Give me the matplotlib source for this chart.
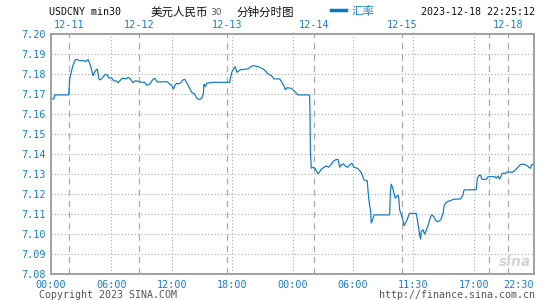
import numpy as np
import matplotlib
matplotlib.use("Agg")
import matplotlib.pyplot as plt

# 30-minute bars, x = bar number counted from the left edge of the chart
N_BARS = 265
bar_x = [0, 1.6, 2.0, 9.7, 10.3, 11.2, 11.9, 13.3, 14.1, 15.7, 18.1, 19.0, 20.3, 21.2, 22.1,
         23.0, 24.0, 25.4, 26.3, 27.1, 28.2, 29.8, 30.9, 31.6, 33.5, 34.4, 35.8, 36.8, 37.7,
         39.0, 41.3, 42.2, 43.7, 45.0, 46.3, 48.7, 49.6, 51.4, 52.3, 53.6, 54.7, 56.0, 56.9,
         58.3, 60.5, 62.0, 63.8, 65.1, 66.4, 67.1, 67.9, 68.8, 70.1, 71.2, 72.4, 73.4, 74.8,
         76.1, 77.4, 78.8, 79.7, 80.7, 81.6, 82.8, 83.6, 83.9, 84.7, 85.4, 86.5, 87.6, 88.9,
         98.0, 98.6, 99.3, 100.4, 101.1, 101.9, 103.0, 104.1, 106.3, 108.1, 109.6, 110.8,
         112.1, 113.6, 115.0, 116.3, 117.6, 119.1, 120.9, 122.4, 125.5, 126.4, 127.8, 128.6,
         129.6, 131.8, 133.3, 134.6, 135.5, 141.9, 142.1, 142.3, 142.8, 143.7, 144.7, 145.6,
         146.5, 147.4, 148.3, 149.8, 151.1, 152.4, 153.5, 154.7, 156.0, 157.5, 158.4, 159.3,
         160.4, 161.5, 162.6, 163.9, 165.1, 166.2, 168.1, 169.4, 170.6, 171.7, 173.5, 173.9,
         174.5, 175.4, 175.7, 176.7, 177.2, 185.8, 186.2, 186.7, 187.5, 188.2, 188.9, 189.7,
         190.4, 190.9, 191.3, 192.2, 193.0, 193.7, 194.6, 195.5, 196.3, 196.8, 199.2, 200.4,
         201.0, 201.7, 202.3, 202.8, 203.1, 204.1, 205.0, 205.9, 206.8, 207.8, 208.3, 209.0,
         210.1, 210.9, 212.0, 213.3, 214.2, 215.1, 215.6, 216.4, 217.8, 219.3, 220.6, 224.8,
         226.0, 226.6, 233.3, 233.9, 234.6, 235.5, 236.5, 238.8, 239.8, 243.5, 244.3, 245.3,
         246.2, 247.5, 249.3, 250.4, 253.0, 254.4, 256.2, 257.7, 259.9, 261.3, 263.0, 263.9,
         265.0]
rate = [7.1677, 7.1677, 7.1697, 7.1697, 7.1780, 7.1813, 7.1840, 7.1872, 7.1875, 7.1868,
        7.1868, 7.1863, 7.1875, 7.1855, 7.1830, 7.1793, 7.1813, 7.1827, 7.1777, 7.1772,
        7.1783, 7.1800, 7.1797, 7.1783, 7.1780, 7.1767, 7.1767, 7.1758, 7.1767, 7.1780,
        7.1777, 7.1785, 7.1775, 7.1758, 7.1768, 7.1763, 7.1760, 7.1760, 7.1747, 7.1747,
        7.1758, 7.1775, 7.1780, 7.1762, 7.1762, 7.1763, 7.1762, 7.1752, 7.1742, 7.1725,
        7.1742, 7.1755, 7.1752, 7.1758, 7.1772, 7.1775, 7.1752, 7.1730, 7.1708, 7.1702,
        7.1685, 7.1675, 7.1675, 7.1682, 7.1705, 7.1752, 7.1738, 7.1755, 7.1758, 7.1757,
        7.1760, 7.1760, 7.1788, 7.1813, 7.1830, 7.1838, 7.1810, 7.1817, 7.1823, 7.1825,
        7.1827, 7.1838, 7.1843, 7.1842, 7.1838, 7.1833, 7.1827, 7.1817, 7.1802, 7.1793,
        7.1777, 7.1777, 7.1763, 7.1743, 7.1722, 7.1733, 7.1730, 7.1718, 7.1705, 7.1697,
        7.1697, 7.1605, 7.1422, 7.1330, 7.1335, 7.1330, 7.1318, 7.1302, 7.1313, 7.1325,
        7.1335, 7.1342, 7.1335, 7.1347, 7.1363, 7.1372, 7.1375, 7.1335, 7.1347, 7.1352,
        7.1342, 7.1335, 7.1347, 7.1355, 7.1335, 7.1330, 7.1318, 7.1302, 7.1272, 7.1268,
        7.1222, 7.1163, 7.1113, 7.1055, 7.1080, 7.1097, 7.1097, 7.1213, 7.1252, 7.1230,
        7.1205, 7.1180, 7.1190, 7.1197, 7.1172, 7.1122, 7.1097, 7.1075, 7.1042, 7.1058,
        7.1075, 7.1097, 7.1105, 7.1105, 7.1105, 7.1072, 7.1030, 7.0997, 7.0975, 7.1013,
        7.1023, 7.1000, 7.1020, 7.1042, 7.1072, 7.1088, 7.1097, 7.1088, 7.1072, 7.1063,
        7.1068, 7.1080, 7.1105, 7.1138, 7.1155, 7.1165, 7.1168, 7.1175, 7.1177, 7.1197,
        7.1222, 7.1223, 7.1280, 7.1292, 7.1298, 7.1275, 7.1275, 7.1288, 7.1288, 7.1280,
        7.1292, 7.1275, 7.1305, 7.1305, 7.1312, 7.1310, 7.1318, 7.1335, 7.1350, 7.1350,
        7.1342, 7.1330, 7.1350, 7.1350]

day_bars = [10.0, 48.4, 96.4, 144.5, 192.4, 240.1, 250.6]
day_labels = ["12-11", "12-12", "12-13", "12-14", "12-15", "", "12-18"]
time_labels = ["00:00", "06:00", "12:00", "18:00", "00:00", "06:00", "11:30", "17:00", "22:30"]
y_ticks = [7.08, 7.09, 7.10, 7.11, 7.12, 7.13, 7.14, 7.15, 7.16, 7.17, 7.18, 7.19, 7.20]

BLUE = "#0a78c8"
TXT_BLUE = "#1680d0"
GRID = "#aaaaaa"
MONO = "DejaVu Sans Mono"
CJK = ["Noto Sans CJK SC", "DejaVu Sans"]

fig = plt.figure(figsize=(5.45, 3.0), dpi=100)
ax = fig.add_axes([51 / 545, 1 - 274.3 / 300, 483 / 545, 240 / 300])

ax.plot(bar_x, rate, color=BLUE, lw=0.85, solid_joinstyle="miter")
ax.set_xlim(0, N_BARS)
ax.set_ylim(7.08, 7.20)

# grid
for v in y_ticks[1:-1]:
    ax.axhline(v, color=GRID, lw=0.8, ls=(0, (1, 2)), zorder=0)
for i in range(1, 8):
    ax.axvline(i * N_BARS / 8, color=GRID, lw=0.8, ls=(0, (1, 2)), zorder=0)
for d in day_bars:
    ax.axvline(d, color=GRID, lw=0.9, ls=(0, (5, 4)), zorder=0)

for s in ax.spines.values():
    s.set_color("#999999")
    s.set_linewidth(1.3)

ax.set_yticks(y_ticks)
ax.set_yticklabels(["%.2f" % v for v in y_ticks], fontfamily=MONO, fontsize=7.3, color=TXT_BLUE)
ax.set_xticks([i * N_BARS / 8 for i in range(9)])
ax.set_xticklabels(time_labels, fontfamily=MONO, fontsize=7.3, color=TXT_BLUE)
ax.get_xticklabels()[-1].set_ha("right")
ax.tick_params(length=0)
ax.tick_params(axis="y", pad=4)
ax.tick_params(axis="x", pad=4)

top = ax.secondary_xaxis("top")
top.set_xticks(day_bars)
top.set_xticklabels(day_labels, fontfamily=MONO, fontsize=7.3, color=TXT_BLUE)
top.tick_params(length=0, pad=3)
top.spines["top"].set_visible(False)

# header
fy = 1 - 12 / 300
fig.text(49 / 545, fy, "USDCNY min30", fontfamily=MONO, fontsize=7.2, va="center", color="#111111")
fig.text(151 / 545, fy, "美元人民币", family=CJK, fontsize=8.3, va="center", color="#111111")
fig.text(210 / 545, fy - 0.003, "30", fontfamily="DejaVu Sans", fontsize=6.5, va="center", color="#555555")
fig.text(236 / 545, fy, "分钟分时图", family=CJK, fontsize=8.3, va="center", color="#111111")
fig.add_artist(plt.Line2D([331 / 545, 346 / 545], [fy + 0.006, fy + 0.006], color=BLUE, lw=2.5))
fig.text(351 / 545, fy, "汇率", family=CJK, fontsize=8.3, va="center", color=TXT_BLUE)
fig.text(535 / 545, fy, "2023-12-18 22:25:12", fontfamily=MONO, fontsize=7.2, va="center", ha="right", color="#111111")

# footer
fig.text(39 / 545, 1 - 295 / 300, "Copyright 2023 SINA.COM", fontfamily=MONO, fontsize=7.2,
         va="center", color="#555555")
fig.text(535 / 545, 1 - 295 / 300, "http://finance.sina.com.cn", fontfamily=MONO, fontsize=7.2,
         va="center", ha="right", color="#555555")

# watermark
ax.text(0.995, 0.02, "sina", transform=ax.transAxes, ha="right", va="bottom", fontsize=10,
        fontweight="bold", fontstyle="italic", color="#d4d4d4", zorder=0)

fig.savefig("out.png", dpi=100)
